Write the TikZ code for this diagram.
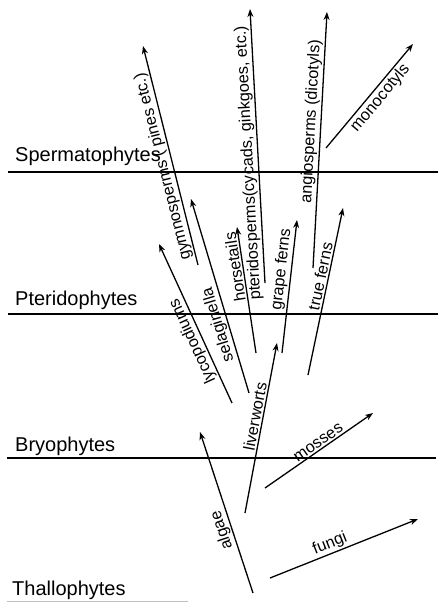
\documentclass[tikz,border=0pt]{standalone}
\usepackage{fontspec}
\setmainfont{Liberation Sans}
\usetikzlibrary{arrows.meta}
\begin{document}
\begin{tikzpicture}[x=1pt,y=-1pt,
  division/.style={line width=1.1pt},
  branch/.style={line width=1.3pt,-{Stealth[length=8pt,width=6pt,inset=2.5pt]}},
  grouplabel/.style={font=\fontsize{20}{23}\selectfont,anchor=base west,inner sep=0pt},
  branchlabel/.style={font=\fontsize{16.3}{18}\selectfont,sloped,allow upside down,inner sep=1.5pt}]
\useasboundingbox (0,0) rectangle (438,603);

% division lines
\coordinate (spl) at (8,172);   \coordinate (spr) at (438,172);
\coordinate (ptl) at (8,314);   \coordinate (ptr) at (438,314);
\coordinate (brl) at (7,458);   \coordinate (brr) at (436,458);
\coordinate (thl) at (7,601.5); \coordinate (thr) at (188,601.5);
\draw[division] (spl) -- (spr);
\draw[division] (ptl) -- (ptr);
\draw[division] (brl) -- (brr);
\draw[gray!50,line width=1pt] (thl) -- (thr);

% group labels
\node[grouplabel] (spermato) at (15,161) {Spermatophytes};
\node[grouplabel] (pterido) at (15,305) {Pteridophytes};
\node[grouplabel] (bryo) at (15,451) {Bryophytes};
\node[grouplabel] (thallo) at (12,595) {Thallophytes};

% branch end points
\coordinate (algT) at (253,593); \coordinate (algH) at (200,432);
\coordinate (livT) at (245,513); \coordinate (livH) at (277,343);
\coordinate (mosT) at (265,488); \coordinate (mosH) at (373,413);
\coordinate (funT) at (270,578); \coordinate (funH) at (418,519);
\coordinate (lycT) at (232,403); \coordinate (lycH) at (159,244);
\coordinate (selT) at (249,393); \coordinate (selH) at (191,199);
\coordinate (gymT) at (198,265); \coordinate (gymH) at (143,46);
\coordinate (horT) at (256,353); \coordinate (horH) at (237,227);
\coordinate (ptsT) at (265,283); \coordinate (ptsH) at (250,9);
\coordinate (graT) at (282,353); \coordinate (graH) at (297,220);
\coordinate (angT) at (313,268); \coordinate (angH) at (327,12);
\coordinate (truT) at (308,375); \coordinate (truH) at (343,208);
\coordinate (monT) at (326,148); \coordinate (monH) at (413,44);

% branches
\draw[branch] (algT) -- node[branchlabel,above,pos=0.41] (lalg) {algae} (algH);
\draw[branch] (livT) -- node[branchlabel,above,pos=0.56] (lliv) {liverworts} (livH);
\draw[branch] (mosT) -- node[branchlabel,above,pos=0.53] (lmos) {mosses} (mosH);
\draw[branch] (funT) -- node[branchlabel,above,pos=0.43] (lfun) {fungi} (funH);
\draw[branch] (lycT) -- node[branchlabel,above,pos=0.415] (llyc) {lycopodiums} (lycH);
\draw[branch] (selT) -- node[branchlabel,above,pos=0.366] (lsel) {selaginella} (selH);
\draw[branch] (gymT) -- node[branchlabel,above,pos=0.46] (lgym) {gymnosperms ( pines etc.)} (gymH);
\draw[branch] (horT) -- node[branchlabel,above,pos=0.69] (lhor) {horsetails} (horH);
\draw[branch] (ptsT) -- node[branchlabel,above,pos=0.44] (lpts) {pteridosperms(cycads, ginkgoes, etc.)} (ptsH);
\draw[branch] (graT) -- node[branchlabel,above,pos=0.62] (lgra) {grape ferns} (graH);
\draw[branch] (angT) -- node[branchlabel,above,pos=0.57] (lang) {angiosperms (dicotyls)} (angH);
\draw[branch] (truT) -- node[branchlabel,above,pos=0.58] (ltru) {true ferns} (truH);
\draw[branch] (monT) -- node[branchlabel,below,pos=0.54] (lmon) {monocotyls} (monH);
\end{tikzpicture}
\end{document}
